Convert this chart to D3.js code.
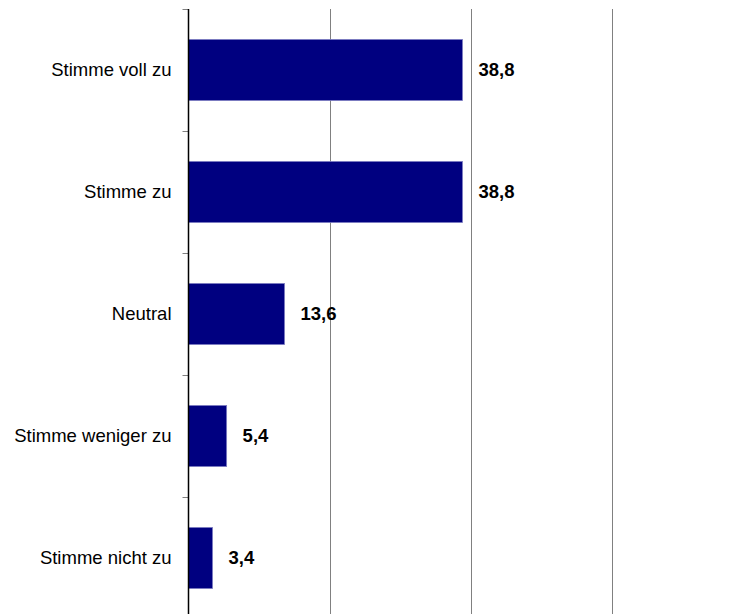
<!DOCTYPE html>
<html>
<head>
<meta charset="utf-8">
<script src="https://cdn.jsdelivr.net/npm/d3@7"></script>
<style>
  body { margin: 0; background: #fff; }
  svg { display: block; }
</style>
</head>
<body>
<svg id="chart" width="740" height="614"></svg>
<script>
const categories = ["Stimme voll zu", "Stimme zu", "Neutral", "Stimme weniger zu", "Stimme nicht zu"];
const values = [38.8, 38.8, 13.6, 5.4, 3.4];
const valueLabels = ["38,8", "38,8", "13,6", "5,4", "3,4"];
const gridTicks = [20, 40, 60];

(function () {
const svg = d3.select("#chart");
const x0 = 188.5, plotTop = 9, step = 122;
const x = d3.scaleLinear().domain([0, 80]).range([x0, x0 + 80 * 7.06]);
const y = d3.scaleBand().domain(categories)
  .range([plotTop, plotTop + step * categories.length])
  .paddingInner(0.5).paddingOuter(0.25);

// gridlines
svg.append("g").selectAll("line").data(gridTicks).join("line")
  .attr("x1", d => Math.round(x(d)) + 0.5).attr("x2", d => Math.round(x(d)) + 0.5)
  .attr("y1", plotTop).attr("y2", 614)
  .attr("stroke", "#808080").attr("stroke-width", 1);

// bars
svg.append("g").selectAll("rect").data(categories).join("rect")
  .attr("x", x(0))
  .attr("y", d => y(d))
  .attr("width", (d, i) => x(values[i]) - x(0))
  .attr("height", y.bandwidth())
  .attr("fill", "#000080")
  .attr("stroke", "#7a7ac0")
  .attr("stroke-width", 0.8);

// y axis line and ticks at band boundaries
const boundaries = d3.range(categories.length + 1).map(i => plotTop + i * step);
svg.append("g").selectAll("line").data(boundaries).join("line")
  .attr("x1", x0 - 6).attr("x2", x0)
  .attr("y1", d => d + 0.5).attr("y2", d => d + 0.5)
  .attr("stroke", "#808080").attr("stroke-width", 1);
svg.append("line")
  .attr("x1", x0).attr("x2", x0)
  .attr("y1", plotTop).attr("y2", 614)
  .attr("stroke", "#000").attr("stroke-width", 1.5);

// category labels
svg.append("g").selectAll("text").data(categories).join("text")
  .attr("x", x0 - 17)
  .attr("y", d => y(d) + y.bandwidth() / 2)
  .attr("dy", "0.35em")
  .attr("text-anchor", "end")
  .attr("font-family", "Liberation Sans, Arial, sans-serif")
  .attr("font-size", 18.5)
  .attr("fill", "#000")
  .text(d => d);

// value labels
svg.append("g").selectAll("text").data(categories).join("text")
  .attr("x", (d, i) => x(values[i]) + 16)
  .attr("y", d => y(d) + y.bandwidth() / 2)
  .attr("dy", "0.35em")
  .attr("font-family", "Liberation Sans, Arial, sans-serif")
  .attr("font-size", 18.5)
  .attr("font-weight", "bold")
  .attr("fill", "#000")
  .text((d, i) => valueLabels[i]);
})();
</script>
</body>
</html>
